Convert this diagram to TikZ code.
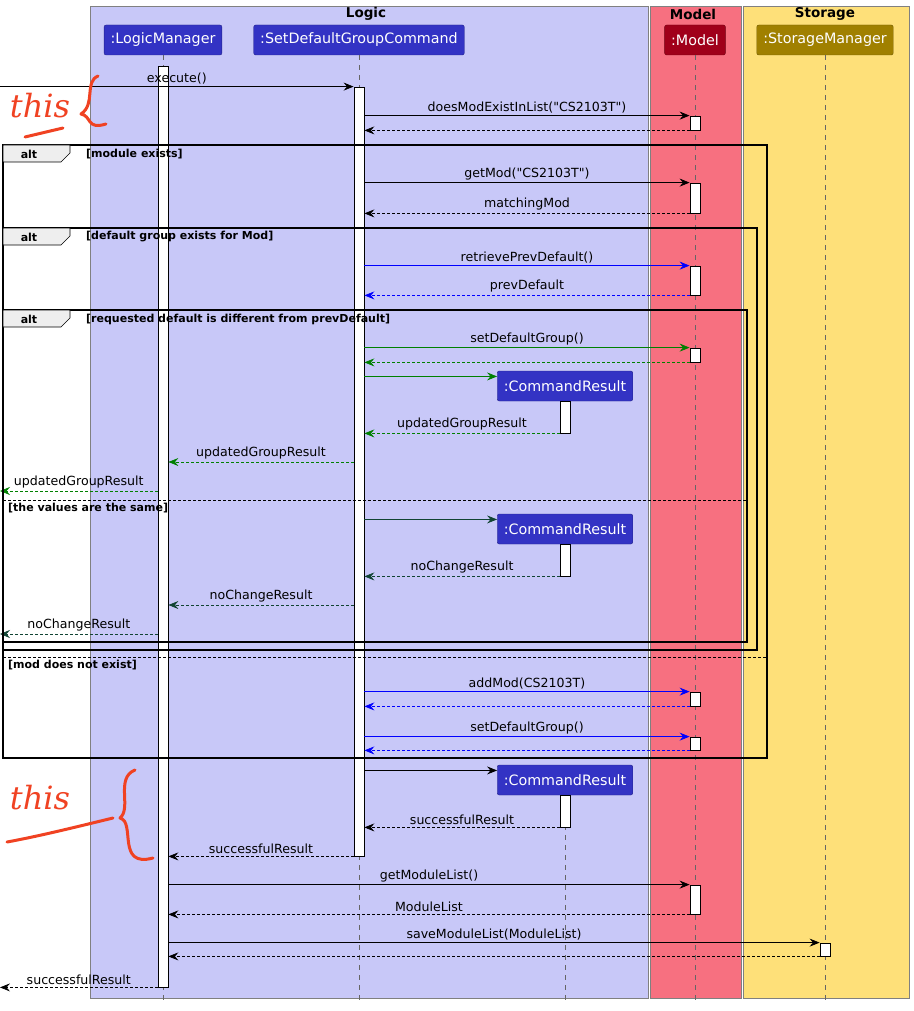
\documentclass[tikz,border=0pt]{standalone}
\usepackage{fontspec}
\setmainfont{DejaVu Sans}[Ligatures=TeXOff]
\newfontfamily\handfont{DejaVu Serif}
\usetikzlibrary{positioning}
\usetikzlibrary{arrows.meta}
\definecolor{logicbg}{RGB}{200,200,248}
\definecolor{modelbg}{RGB}{247,112,128}
\definecolor{storebg}{RGB}{254,224,121}
\definecolor{actorblue}{RGB}{51,51,196}
\definecolor{modelred}{RGB}{160,0,26}
\definecolor{storegold}{RGB}{160,128,0}
\definecolor{okgreen}{RGB}{0,128,0}
\definecolor{darkteal}{RGB}{17,68,51}
\definecolor{handred}{RGB}{240,66,34}
\definecolor{tabgray}{RGB}{238,238,238}
\tikzset{
    box/.style = {draw=black!50, line width=0.8pt},
    boxtitle/.style = {font=\bfseries\fontsize{13.5}{16}\selectfont, inner sep=0pt},
    actor/.style = {rectangle, rounded corners=2pt, minimum height=30pt, inner xsep=6.5pt, text=white, font=\fontsize{14.3}{17}\selectfont},
    bar/.style = {rectangle, draw=black, fill=white, minimum width=10pt, inner sep=0pt, line width=0.8pt},
    life/.style = {draw=black!60, dash pattern=on 5pt off 5pt, line width=0.7pt},
    msg/.style = {-{Stealth[length=10pt,width=8pt,inset=3.5pt]}, line width=0.7pt},
    ret/.style = {msg, dash pattern=on 2.5pt off 2.5pt}, % back
    lbl/.style = {above, inner sep=2.5pt, font=\fontsize{12.6}{15}\selectfont, text=black},
    altframe/.style = {draw=black, line width=1.6pt},
    alttab/.style = {draw=black, fill=tabgray, line width=0.7pt},
    guard/.style = {anchor=west, inner sep=0pt, font=\bfseries\fontsize{11}{13}\selectfont},
    elseline/.style = {draw=black, dash pattern=on 2.5pt off 2.5pt, line width=0.7pt},
    hand/.style = {draw=handred, line width=3pt, line cap=round, line join=round},
    handtext/.style = {text=handred, font=\handfont\itshape\fontsize{32}{36}\selectfont, inner sep=0pt}
}
\begin{document}
\begin{tikzpicture}[x=1pt, y=-1pt]
  \useasboundingbox (0,0) rectangle (913,1011);
  \coordinate (edge) at (0,0);
  \coordinate (bottom) at (0,1003);
  \coordinate (u1) at (0,462);
  \coordinate (u2) at (0,491);
  \coordinate (n1) at (0,605);
  \coordinate (n2) at (0,634);

  % groups
  \fill[logicbg] (90,6) rectangle (648,998);
  \draw[box] (90,6) rectangle (648,998);
  \fill[modelbg] (650,6) rectangle (741,998);
  \draw[box] (650,6) rectangle (741,998);
  \fill[storebg] (743,6) rectangle (909,998);
  \draw[box] (743,6) rectangle (909,998);
  \node[boxtitle] (tlogic) at (366,14) {Logic};
  \node[boxtitle] (tmodel) at (693,14) {Model};
  \node[boxtitle] (tstore) at (825,14) {Storage};

  % participants
  \node[actor, fill=actorblue, draw=actorblue!70!black] (lm) at (163,40) {:LogicManager};
  \node[actor, fill=actorblue, draw=actorblue!70!black] (cmd) at (359,40) {:SetDefaultGroupCommand};
  \node[actor, fill=modelred, draw=modelred!70!black] (mod) at (695,40) {:Model};
  \node[actor, fill=storegold, draw=storegold!70!black] (sto) at (825,40) {:StorageManager};

  \draw[life] (lm.south) -- (lm.south |- bottom);
  \draw[life] (cmd.south) -- (cmd.south |- bottom);
  \draw[life] (mod.south) -- (mod.south |- bottom);
  \draw[life] (sto.south) -- (sto.south |- bottom);

  % activations
  \node[bar, minimum height=921pt] (lmA) at (163,526.5) {};
  \node[bar, minimum height=769pt] (cmdA) at (359,471.5) {};
  \node[bar, minimum height=14pt] (modA1) at (695,123) {};
  \node[bar, minimum height=30pt] (modA2) at (695,198) {};
  \node[bar, minimum height=29pt] (modA3) at (695,280.5) {};
  \node[bar, minimum height=14pt] (modA4) at (695,355) {};
  \node[bar, minimum height=14pt] (modA5) at (695,699) {};
  \node[bar, minimum height=13pt] (modA6) at (695,743.5) {};
  \node[bar, minimum height=29pt] (modA7) at (695,899.5) {};
  \node[bar, minimum height=13pt] (stoA) at (825,949.5) {};

  % created results
  \node[actor, fill=actorblue, draw=actorblue!70!black] (cr1) at (565,386) {:CommandResult};
  \node[bar, minimum height=32pt] (cr1A) at (565,417) {};
  \node[actor, fill=actorblue, draw=actorblue!70!black] (cr2) at (565,529) {:CommandResult};
  \node[bar, minimum height=32pt] (cr2A) at (565,560) {};
  \node[actor, fill=actorblue, draw=actorblue!70!black] (cr3) at (565,780) {:CommandResult};
  \draw[life] (cr3.south) -- (cr3.south |- bottom);
  \node[bar, minimum height=32pt] (cr3A) at (565,811) {};

  % messages
  \draw[msg] (edge |- cmdA.north) -- (cmdA.north west) node[lbl, midway] (m1) {execute()};
  \draw[msg] (cmdA.east |- modA1.north) -- (modA1.north west) node[lbl, midway] (m2) {doesModExistInList("CS2103T")};
  \draw[ret] (modA1.south west) -- (cmdA.east |- modA1.south);
  \draw[msg] (cmdA.east |- modA2.north) -- (modA2.north west) node[lbl, midway] (m3) {getMod("CS2103T")};
  \draw[ret] (modA2.south west) -- (cmdA.east |- modA2.south) node[lbl, midway] (m4) {matchingMod};
  \draw[msg, blue] (cmdA.east |- modA3.north) -- (modA3.north west) node[lbl, midway] (m5) {retrievePrevDefault()};
  \draw[ret, blue] (modA3.south west) -- (cmdA.east |- modA3.south) node[lbl, midway] (m6) {prevDefault};
  \draw[msg, okgreen] (cmdA.east |- modA4.north) -- (modA4.north west) node[lbl, midway] (m7) {setDefaultGroup()};
  \draw[ret, okgreen] (modA4.south west) -- (cmdA.east |- modA4.south);
  \draw[msg, okgreen] (cmdA.east |- cr1.172) -- (cr1.172);
  \draw[ret, okgreen] (cr1A.south west) -- (cmdA.east |- cr1A.south) node[lbl, midway] (m8) {updatedGroupResult};
  \draw[ret, okgreen] (cmdA.west |- u1) -- (lmA.east |- u1) node[lbl, midway] (m9) {updatedGroupResult};
  \draw[ret, okgreen] (lmA.west |- u2) -- (edge |- u2) node[lbl, midway] (m10) {updatedGroupResult};
  \draw[msg, darkteal] (cmdA.east |- cr2.172) -- (cr2.172);
  \draw[ret, darkteal] (cr2A.south west) -- (cmdA.east |- cr2A.south) node[lbl, midway] (m11) {noChangeResult};
  \draw[ret, darkteal] (cmdA.west |- n1) -- (lmA.east |- n1) node[lbl, midway] (m12) {noChangeResult};
  \draw[ret, darkteal] (lmA.west |- n2) -- (edge |- n2) node[lbl, midway] (m13) {noChangeResult};
  \draw[msg, blue] (cmdA.east |- modA5.north) -- (modA5.north west) node[lbl, midway] (m14) {addMod(CS2103T)};
  \draw[ret, blue] (modA5.south west) -- (cmdA.east |- modA5.south);
  \draw[msg, blue] (cmdA.east |- modA6.north) -- (modA6.north west) node[lbl, midway] (m15) {setDefaultGroup()};
  \draw[ret, blue] (modA6.south west) -- (cmdA.east |- modA6.south);
  \draw[msg] (cmdA.east |- cr3.172) -- (cr3.172);
  \draw[ret] (cr3A.south west) -- (cmdA.east |- cr3A.south) node[lbl, midway] (m16) {successfulResult};
  \draw[ret] (cmdA.south west) -- (lmA.east |- cmdA.south) node[lbl, midway] (m17) {successfulResult};
  \draw[msg] (lmA.east |- modA7.north) -- (modA7.north west) node[lbl, midway] (m18) {getModuleList()};
  \draw[ret] (modA7.south west) -- (lmA.east |- modA7.south) node[lbl, midway] (m19) {ModuleList};
  \draw[msg] (lmA.east |- stoA.north) -- (stoA.north west) node[lbl, midway] (m20) {saveModuleList(ModuleList)};
  \draw[ret] (stoA.south west) -- (lmA.east |- stoA.south);
  \draw[ret] (lmA.south west) -- (edge |- lmA.south) node[lbl, midway] (m21) {successfulResult};

  % alt frames
  \draw[altframe] (3,145) rectangle (767,758);
  \draw[alttab] (3,145) -- (70,145) -- (70,153) -- (61,162) -- (3,162) -- cycle;
  \node[guard, anchor=center] (alt1) at (29,154) {alt};
  \node[guard] (g1) at (86,154) {[module exists]};
  \draw[elseline] (3,657) -- (767,657);
  \node[guard] (g1e) at (8,665) {[mod does not exist]};

  \draw[altframe] (3,228) rectangle (757,650);
  \draw[alttab] (3,228) -- (70,228) -- (70,236) -- (61,245) -- (3,245) -- cycle;
  \node[guard, anchor=center] (alt2) at (29,237) {alt};
  \node[guard] (g2) at (86,237) {[default group exists for Mod]};

  \draw[altframe] (3,310) rectangle (747,642);
  \draw[alttab] (3,310) -- (70,310) -- (70,318) -- (61,327) -- (3,327) -- cycle;
  \node[guard, anchor=center] (alt3) at (29,319) {alt};
  \node[guard] (g3) at (86,319) {[requested default is different from prevDefault]};
  \draw[elseline] (3,500) -- (747,500);
  \node[guard] (g3e) at (8,508) {[the values are the same]};

  % handwriting
  \node[handtext] (this1) at (40,106) {this};
  \draw[hand] (25,137) -- (63,128);
  \draw[hand] (98,76) .. controls (84,82) and (96,104) .. (81,114) .. controls (92,116) and (86,130) .. (106,124);
  \node[handtext] (this2) at (40,798) {this};
  \draw[hand] (7,842) .. controls (40,836) and (80,826) .. (113,818);
  \draw[hand] (135,770) .. controls (115,778) and (132,808) .. (120,818) .. controls (136,822) and (116,868) .. (153,858);
\end{tikzpicture}
\end{document}
